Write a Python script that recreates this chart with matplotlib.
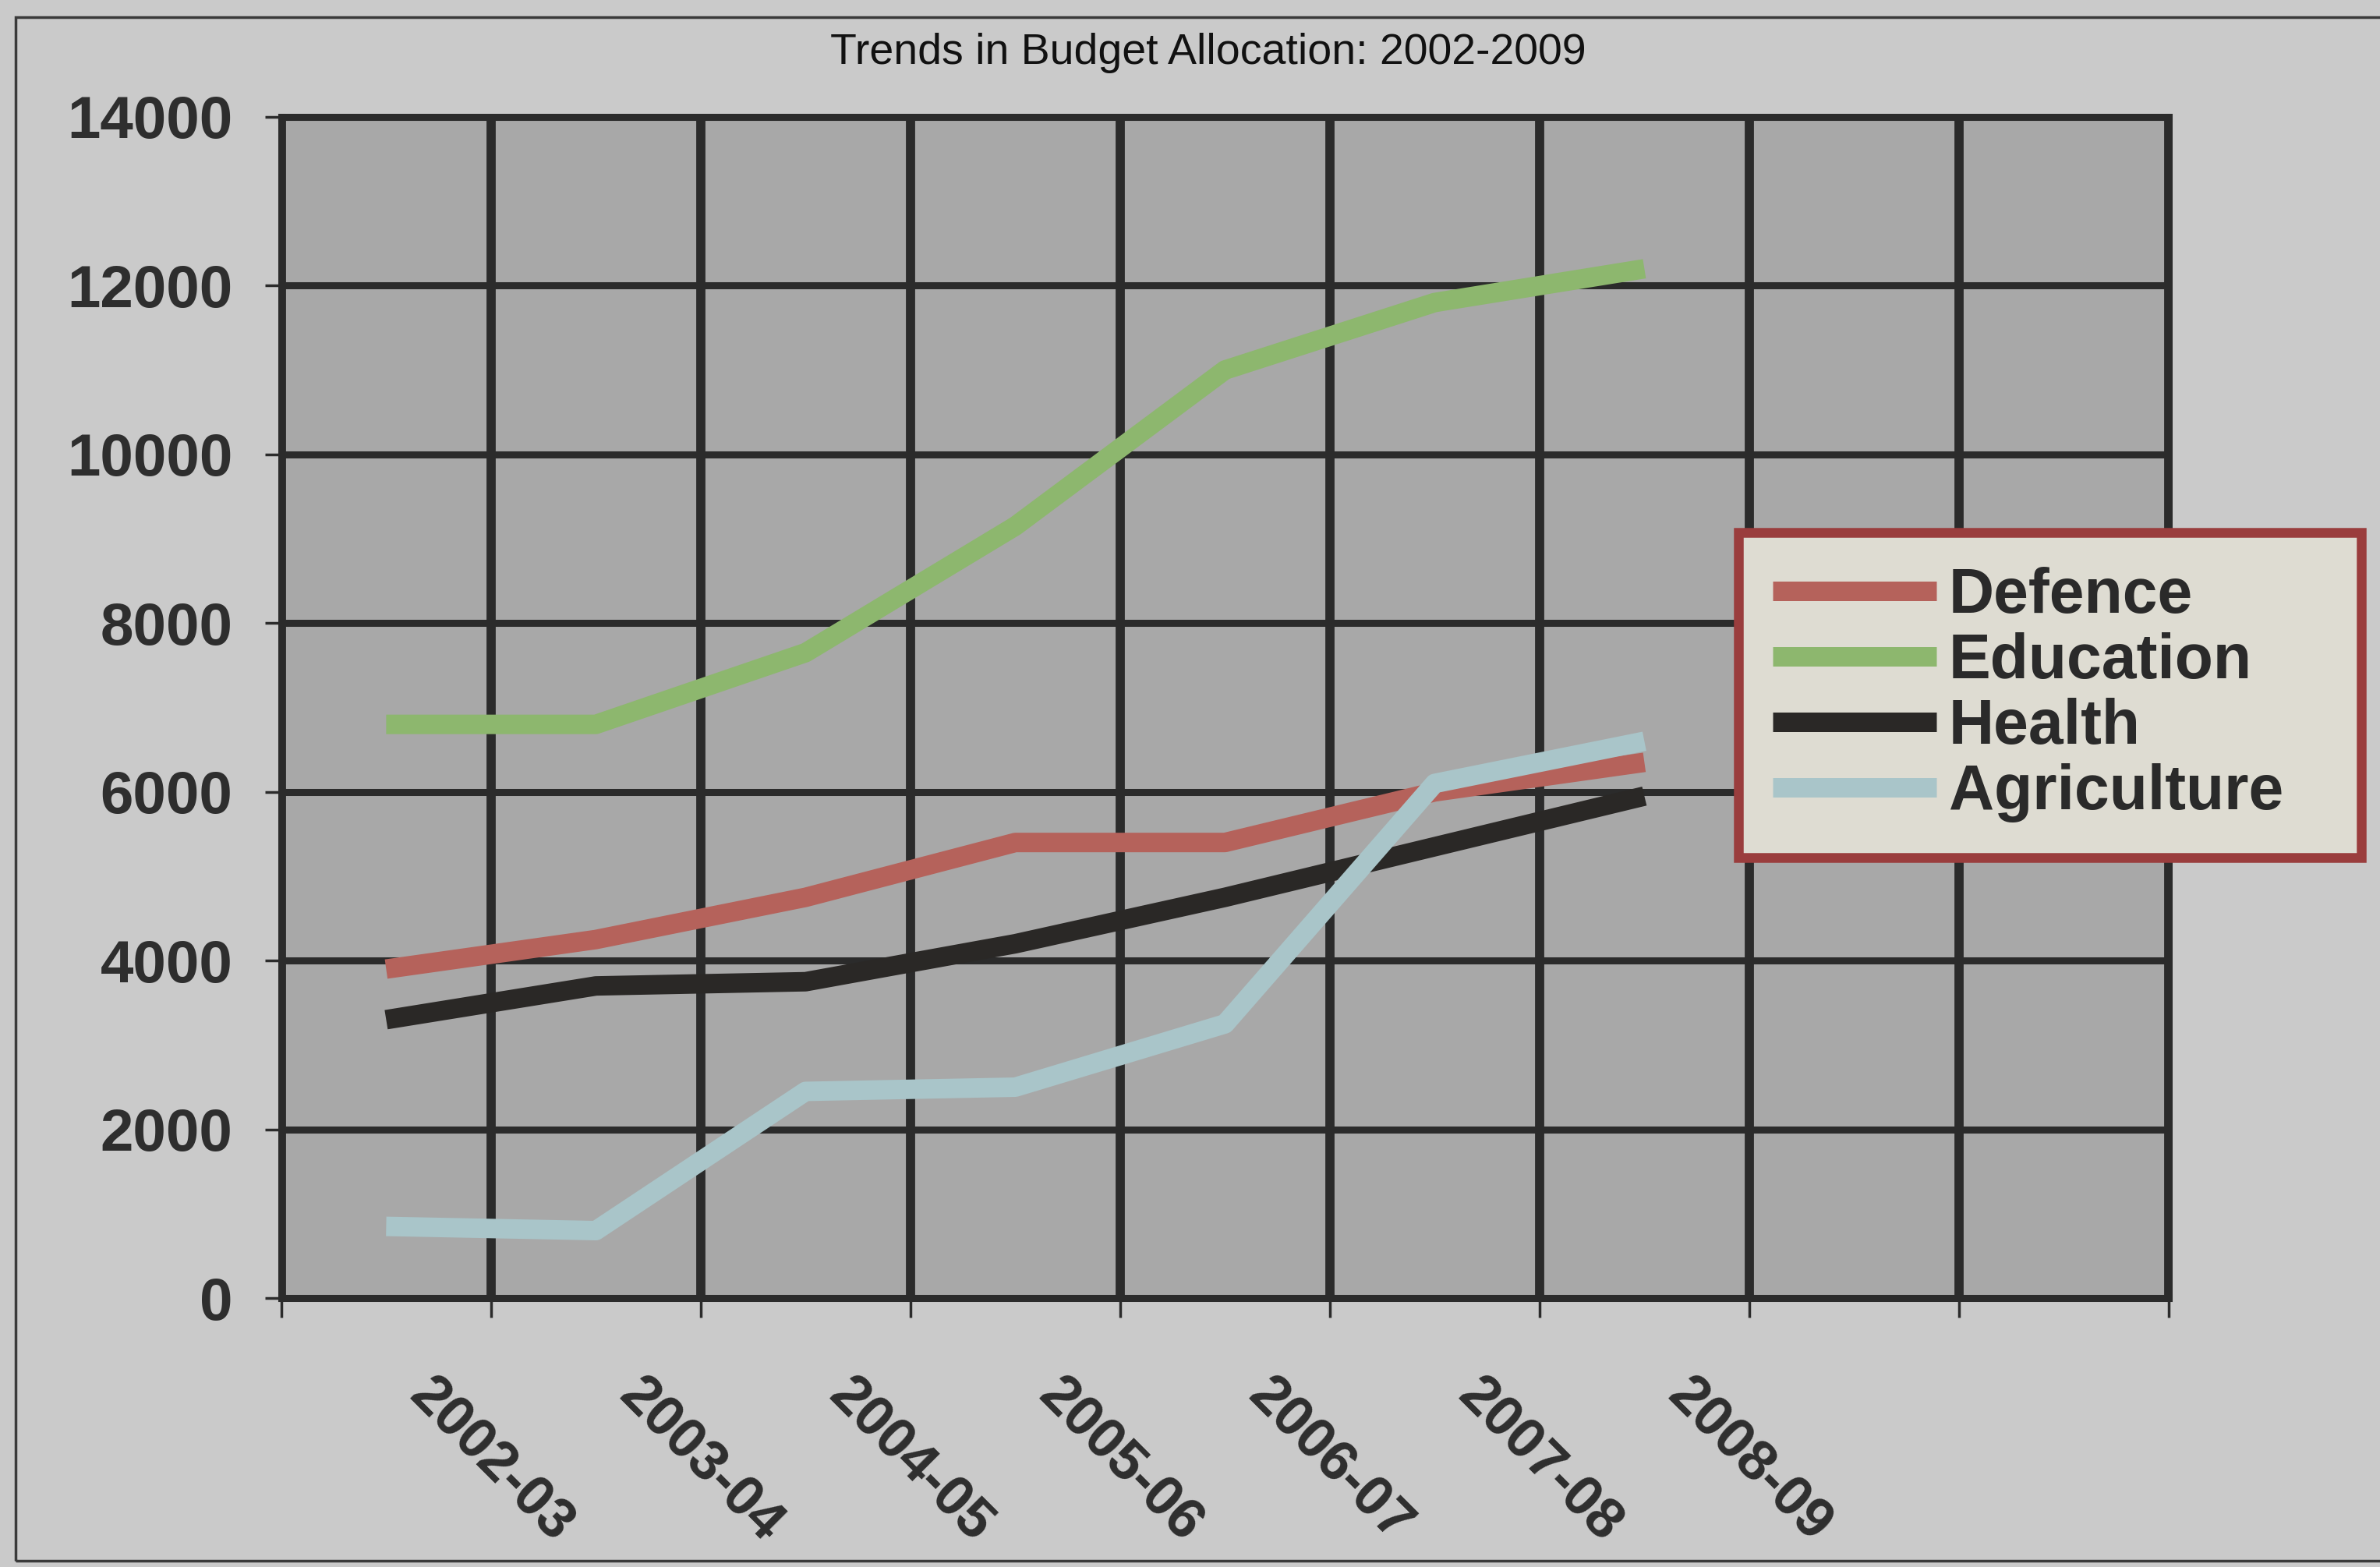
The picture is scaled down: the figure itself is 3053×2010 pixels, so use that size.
import numpy as np
import matplotlib.pyplot as plt
from matplotlib.patches import Rectangle

# Budget allocation data
years = ["2002-03", "2003-04", "2004-05", "2005-06", "2006-07", "2007-08", "2008-09"]
defence = [3900, 4250, 4750, 5400, 5400, 6000, 6350]
education = [6800, 6800, 7650, 9150, 11000, 11800, 12200]
health = [3300, 3700, 3750, 4200, 4750, 5350, 5950]
agriculture = [850, 800, 2450, 2500, 3250, 6100, 6600]

series_names = ["Defence", "Education", "Health", "Agriculture"]
series_colors = ["#b5625b", "#8db76e", "#2a2826", "#a9c5c9"]

y_ticks = list(range(0, 14001, 2000))

plt.rcParams['font.family'] = ['Liberation Sans', 'DejaVu Sans']

fig = plt.figure(figsize=(30.53, 20.10), dpi=100, facecolor="#cacaca")
ax = fig.add_axes([0.1182, 0.1716, 0.7930, 0.7538])
ax.set_facecolor("#a8a8a8")

# Points sit halfway between the vertical gridlines
x = np.arange(len(years)) + 0.5
for vals, name, col in zip([defence, education, health, agriculture], series_names, series_colors):
    ax.plot(x, vals, color=col, lw=18, label=name, solid_capstyle="butt", solid_joinstyle="round", zorder=3)

grid_col = "#2b2b2b"
ax.set_xlim(0, 9)
ax.set_ylim(0, 14000)
ax.set_xticks(range(10))
ax.set_xticklabels([""] + years + ["", ""], rotation=-45, ha="center", va="top",
                   fontsize=52, fontweight="bold", color="#2e2e2e")
ax.set_yticks(y_ticks)
ax.set_yticklabels([str(v) for v in y_ticks], fontsize=55, fontweight="bold", color="#2e2e2e")
ax.tick_params(axis="x", length=18, width=2.5, color=grid_col, pad=47)
ax.tick_params(axis="y", length=15, width=2.5, color=grid_col, pad=30)

ax.grid(axis="x", color=grid_col, lw=8.5, zorder=1)
ax.grid(axis="y", color=grid_col, lw=6.5, zorder=1)
ax.set_axisbelow(True)
for sp in ax.spines.values():
    sp.set_color(grid_col)
    sp.set_linewidth(6.5)

fig.text(0.5077, 0.9592, "Trends in Budget Allocation: 2002-2009", ha="center", va="baseline",
         fontsize=40, color="#111111")

leg = fig.legend(loc="upper left", bbox_to_anchor=(0.7304, 0.4493, 0.2617, 0.2109), mode="expand",
                 borderaxespad=0, prop={"size": 58, "weight": "bold"}, handlelength=2.6,
                 handletextpad=0.2, borderpad=0.55, labelspacing=0.1, fancybox=False, framealpha=1)
leg.get_frame().set_facecolor("#dedcd2")
leg.get_frame().set_edgecolor("#9a3d3d")
leg.get_frame().set_linewidth(9)
for t in leg.get_texts():
    t.set_color("#2a2a2a")

# Outer chart frame
fig.patches.append(Rectangle((0.0065, 0.004), 1.0, 0.985, transform=fig.transFigure,
                             fill=False, edgecolor="#3a3a3a", lw=2.5))

fig.savefig("out.png", dpi=100, facecolor=fig.get_facecolor())
